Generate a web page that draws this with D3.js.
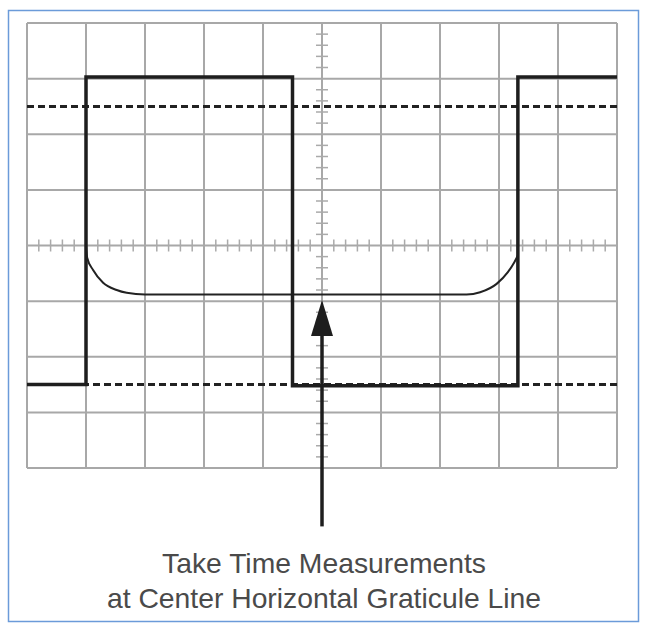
<!DOCTYPE html>
<html>
<head>
<meta charset="utf-8">
<script src="https://d3js.org/d3.v7.min.js"></script>
<style>
  body { margin: 0; background: #fff; }
  svg { display: block; }
</style>
</head>
<body>
<script>
// Graticule: 10 x 8 divisions, values in divisions from the centre.
var xDivisions = [-5, -4, -3, -2, -1, 0, 1, 2, 3, 4, 5],
    yDivisions = [-4, -3, -2, -1, 0, 1, 2, 3, 4];

// 0% / 100% reference levels (dashed)
var refLevels = [2.5, -2.5];

// Square wave as drawn, [x div, y div]
var squareWave = [
  [-5, -2.5], [-4, -2.5], [-4, 3.03], [-0.5, 3.03],
  [-0.5, -2.52], [3.32, -2.52], [3.32, 3.03], [5, 3.03]
];

// Thin trace that dips below the centre line between the two edges
var dipTrace = [
  [-4, 0], [-3.98, -0.22], [-3.88, -0.44], [-3.71, -0.67], [-3.48, -0.8],
  [-3.31, -0.85], [-3.0, -0.88], [2.45, -0.88], [2.68, -0.84], [2.96, -0.69],
  [3.15, -0.48], [3.26, -0.3], [3.32, -0.18]
];

// Arrow from the label up to the centre line
var arrowFrom = -5.05, arrowTip = -0.98;

var labelLines = ["Take Time Measurements", "at Center Horizontal Graticule Line"];

var width = 648,
    height = 631;

var x = d3.scaleLinear().domain([-5, 5]).range([27, 617]),
    y = d3.scaleLinear().domain([4, -4]).range([23, 468]);

var svg = d3.select("body").append("svg")
  .attr("width", width)
  .attr("height", height);

// outer frame
svg.append("rect")
  .attr("x", 8.5).attr("y", 10.5)
  .attr("width", 630).attr("height", 611)
  .attr("fill", "#fff")
  .attr("stroke", "#6b9bd9")
  .attr("stroke-width", 1.5);

var grid = svg.append("g")
  .attr("stroke", "#a8a8a8")
  .attr("stroke-width", 2);

grid.selectAll(".v").data(xDivisions).enter().append("line")
  .attr("x1", function(d) { return x(d); })
  .attr("x2", function(d) { return x(d); })
  .attr("y1", y(4)).attr("y2", y(-4));

grid.selectAll(".h").data(yDivisions).enter().append("line")
  .attr("y1", function(d) { return y(d); })
  .attr("y2", function(d) { return y(d); })
  .attr("x1", x(-5)).attr("x2", x(5));

// minor ticks on the centre lines, every 0.2 div
var minorX = [], minorY = [];
xDivisions.slice(0, -1).forEach(function(d) {
  [0.2, 0.4, 0.6, 0.8].forEach(function(f) { minorX.push(d + f); });
});
yDivisions.slice(0, -1).forEach(function(d) {
  [0.2, 0.4, 0.6, 0.8].forEach(function(f) { minorY.push(d + f); });
});

var ticks = svg.append("g")
  .attr("stroke", "#aaaaaa")
  .attr("stroke-width", 1.5);

ticks.selectAll(".tx").data(minorX).enter().append("line")
  .attr("x1", function(d) { return x(d); })
  .attr("x2", function(d) { return x(d); })
  .attr("y1", y(0) - 6).attr("y2", y(0) + 6);

ticks.selectAll(".ty").data(minorY).enter().append("line")
  .attr("y1", function(d) { return y(d); })
  .attr("y2", function(d) { return y(d); })
  .attr("x1", x(0) - 6).attr("x2", x(0) + 6);

// dashed reference levels
svg.selectAll(".ref").data(refLevels).enter().append("line")
  .attr("x1", x(-5)).attr("x2", x(5))
  .attr("y1", function(d) { return y(d); })
  .attr("y2", function(d) { return y(d); })
  .attr("stroke", "#222")
  .attr("stroke-width", 3)
  .attr("stroke-dasharray", "7,4");

var line = d3.line()
  .x(function(d) { return x(d[0]); })
  .y(function(d) { return y(d[1]); });

svg.append("path")
  .datum(dipTrace)
  .attr("d", line.curve(d3.curveMonotoneX))
  .attr("fill", "none")
  .attr("stroke", "#222")
  .attr("stroke-width", 2);

svg.append("path")
  .datum(squareWave)
  .attr("d", line.curve(d3.curveLinear))
  .attr("fill", "none")
  .attr("stroke", "#1e1e1e")
  .attr("stroke-width", 3.5);

// arrow
svg.append("line")
  .attr("x1", x(0)).attr("x2", x(0))
  .attr("y1", y(arrowFrom)).attr("y2", y(arrowTip) + 30)
  .attr("stroke", "#1e1e1e")
  .attr("stroke-width", 3.5);

svg.append("path")
  .attr("d", "M" + x(0) + "," + y(arrowTip) +
             "L" + (x(0) + 11) + "," + (y(arrowTip) + 36) +
             "L" + (x(0) - 11) + "," + (y(arrowTip) + 36) + "Z")
  .attr("fill", "#1e1e1e");

svg.selectAll(".label").data(labelLines).enter().append("text")
  .attr("x", 324)
  .attr("y", function(d, i) { return 573 + i * 34.5; })
  .attr("text-anchor", "middle")
  .attr("font-family", "'Liberation Sans', Arial, sans-serif")
  .attr("font-size", 28.3)
  .attr("fill", "#4a4a4a")
  .text(function(d) { return d; });
</script>
</body>
</html>
